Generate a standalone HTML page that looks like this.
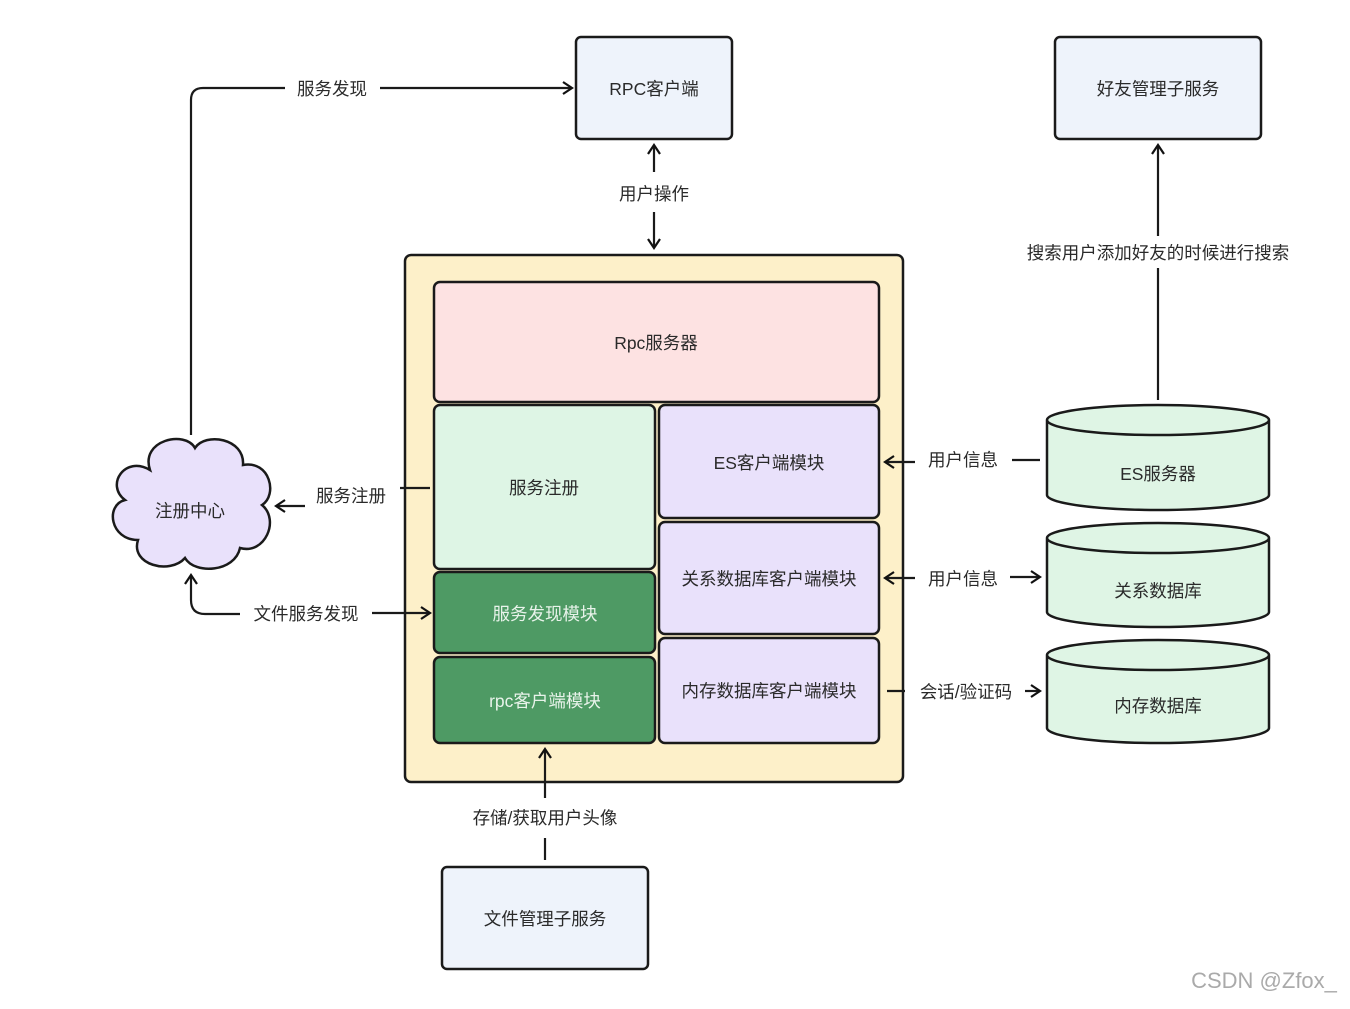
<!DOCTYPE html>
<html><head><meta charset="utf-8"><style>
html,body{margin:0;padding:0;background:#fff;}
svg text{font-family:"Liberation Sans","Noto Sans CJK SC",sans-serif;fill:#2a2a2a;font-size:17.5px;}
</style></head><body>
<svg width="1350" height="1004" viewBox="0 0 1350 1004" xmlns="http://www.w3.org/2000/svg">
<defs><marker id="a" markerWidth="14" markerHeight="14" refX="11" refY="7" orient="auto" markerUnits="userSpaceOnUse"><path d="M2,1 L11,7 L2,13" fill="none" stroke="#111" stroke-width="2.2"/></marker></defs>
<g stroke="#1a1a1a" stroke-width="2.5">
<rect x="576" y="37" width="156" height="102" rx="5" fill="#eef3fb"/>
<rect x="1055" y="37" width="206" height="102" rx="5" fill="#eef3fb"/>
<rect x="405" y="255" width="498" height="527" rx="6" fill="#fdf0c9"/>
<rect x="434" y="282" width="445" height="120" rx="6" fill="#fde2e2"/>
<rect x="434" y="405" width="221" height="164" rx="6" fill="#def5e5"/>
<rect x="434" y="572" width="221" height="81" rx="6" fill="#4e9a64"/>
<rect x="434" y="657" width="221" height="86" rx="6" fill="#4e9a64"/>
<rect x="659" y="405" width="220" height="113" rx="6" fill="#e9e1fb"/>
<rect x="659" y="522" width="220" height="112" rx="6" fill="#e9e1fb"/>
<rect x="659" y="638" width="220" height="105" rx="6" fill="#e9e1fb"/>
<rect x="442" y="867" width="206" height="102" rx="5" fill="#eef3fb"/>
<path d="M1047,420 V495 A111,15 0 0 0 1269,495 V420 A111,15 0 0 0 1047,420 A111,15 0 0 0 1269,420" fill="#dff5e5"/>
<path d="M1047,538 V612 A111,15 0 0 0 1269,612 V538 A111,15 0 0 0 1047,538 A111,15 0 0 0 1269,538" fill="#dff5e5"/>
<path d="M1047,655 V728 A111,15 0 0 0 1269,728 V655 A111,15 0 0 0 1047,655 A111,15 0 0 0 1269,655" fill="#dff5e5"/>
<path d="M150,470 C140,440 185,430 195,448 C205,432 245,438 243,465 C270,460 278,495 262,505 C280,520 265,555 240,548 C235,572 195,575 185,558 C170,575 130,565 138,540 C110,540 105,505 125,500 C105,485 125,455 150,470 Z" fill="#e9e1fb"/>
</g>
<g stroke="#1a1a1a" stroke-width="2.2" fill="none">
<path d="M191,435 V100 Q191,88 203,88 H285"/>
<path d="M380,88 H572" marker-end="url(#a)"/>
<path d="M654,172 V145" marker-end="url(#a)"/>
<path d="M654,212 V248" marker-end="url(#a)"/>
<path d="M1158,400 V268"/><path d="M1158,236 V145" marker-end="url(#a)"/>
<path d="M1040,460 H1012"/><path d="M915,462 H885" marker-end="url(#a)"/>
<path d="M915,578 H885" marker-end="url(#a)"/><path d="M1010,577 H1040" marker-end="url(#a)"/>
<path d="M887,691 H905"/><path d="M1025,691 H1040" marker-end="url(#a)"/>
<path d="M430,488 H400"/><path d="M305,506 H276" marker-end="url(#a)"/>
<path d="M240,614 H205 Q191,614 191,600 V575" marker-end="url(#a)"/>
<path d="M372,613 H430" marker-end="url(#a)"/>
<path d="M545,860 V838"/><path d="M545,798 V749" marker-end="url(#a)"/>
</g>
<g text-anchor="middle">
<text x="654" y="95">RPC客户端</text>
<text x="1158" y="95">好友管理子服务</text>
<text x="656" y="349">Rpc服务器</text>
<text x="544" y="494">服务注册</text>
<text x="545" y="620" style="fill:#e8f3ea">服务发现模块</text>
<text x="545" y="707" style="fill:#e8f3ea">rpc客户端模块</text>
<text x="769" y="469">ES客户端模块</text>
<text x="769" y="585">关系数据库客户端模块</text>
<text x="769" y="697">内存数据库客户端模块</text>
<text x="1158" y="480">ES服务器</text>
<text x="1158" y="597">关系数据库</text>
<text x="1158" y="712">内存数据库</text>
<text x="190" y="517">注册中心</text>
<text x="545" y="925">文件管理子服务</text>
<text x="332" y="95">服务发现</text>
<text x="654" y="200">用户操作</text>
<text x="1158" y="259">搜索用户添加好友的时候进行搜索</text>
<text x="963" y="466">用户信息</text>
<text x="963" y="585">用户信息</text>
<text x="966" y="698">会话/验证码</text>
<text x="351" y="502">服务注册</text>
<text x="306" y="620">文件服务发现</text>
<text x="545" y="824">存储/获取用户头像</text>
<text x="1264" y="988" style="fill:#aaa;font-size:22px">CSDN @Zfox_</text>
</g>
</svg>
</body></html>
